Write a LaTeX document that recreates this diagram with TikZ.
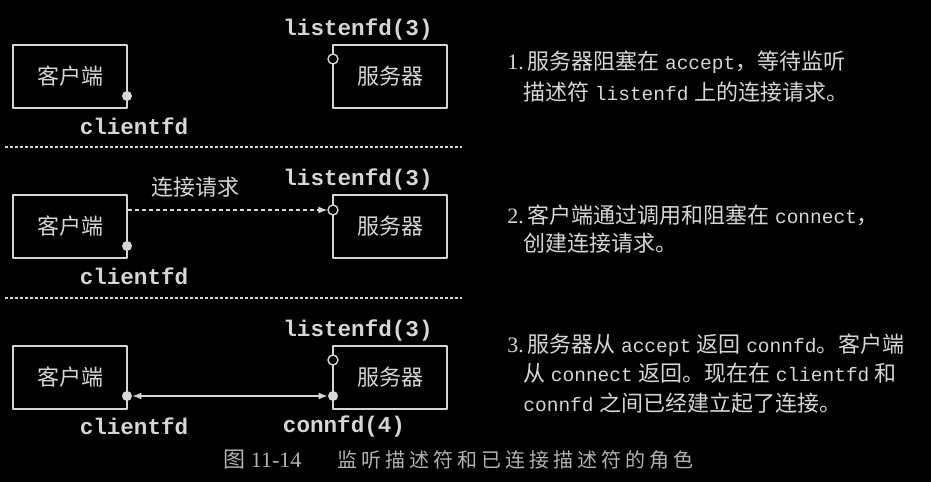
\documentclass[tikz,border=0pt]{standalone}
\usepackage{fontspec}
\setmainfont{Liberation Serif}
\setmonofont{Liberation Mono}
\newfontfamily\cjk{Noto Sans CJK SC}
\newfontfamily\cjkcap[LetterSpace=20]{Noto Sans CJK SC}
\usetikzlibrary{arrows.meta}

\definecolor{ink}{gray}{0.84}
\definecolor{capink}{gray}{0.70}

\newcommand{\code}[1]{{\ttfamily\fontsize{9.75}{12}\selectfont #1}}

\begin{document}
\begin{tikzpicture}[
    x = 0.5pt, y = -0.5pt,
    line join=round,
    >={Latex[length=4.5pt, width=3.5pt]},
    box/.style = {draw=ink, line width=1.1pt, minimum width=57pt, minimum height=31.5pt, inner sep=0pt, text=ink, font=\cjk\fontsize{11}{11}\selectfont},
    fdfull/.style = {circle, fill=ink, inner sep=0pt, minimum size=5pt},
    fdopen/.style = {circle, draw=ink, fill=black, line width=0.7pt, inner sep=0pt, minimum size=5pt},
    fdname/.style = {text=ink, inner sep=0pt, font=\ttfamily\bfseries\fontsize{11.3}{12}\selectfont},
    note/.style = {anchor=west, text=ink, inner sep=0pt, font=\fontsize{11}{12}\selectfont},
    sep/.style = {draw=ink, line width=0.6pt, dash pattern=on 1.5pt off 1pt},
    link/.style = {draw=ink, line width=0.6pt}
]

\useasboundingbox (0, 0) rectangle (931, 482);
\fill[black] (0, 0) rectangle (931, 482);

% panel 1
\node[box] (client1) at (70, 76.5) {客户端};
\node[box] (server1) at (390, 76.5) {服务器};
\node[fdfull] (cfd1) at (127, 96) {};
\node[fdopen] (lfd1) at (333, 59) {};
\node[fdname] (lname1) at (358, 29) {listenfd(3)};
\node[fdname] (cname1) at (134, 126) {clientfd};

\node[note] (note1a) at (507, 62) {1.\,{\cjk 服务器阻塞在} \code{accept}{\cjk ，等待监听}};
\node[note] (note1b) at (523, 92) {{\cjk 描述符} \code{listenfd} {\cjk 上的连接请求。}};

\coordinate (sepA) at (5, 147);
\coordinate (sepB) at (462, 147);
\draw[sep] (sepA) -- (sepB);

% panel 2
\node[box] (client2) at (70, 226.5) {客户端};
\node[box] (server2) at (390, 226.5) {服务器};
\node[fdfull] (cfd2) at (127, 246) {};
\node[fdopen] (lfd2) at (333, 210) {};
\node[fdname] (lname2) at (358, 179) {listenfd(3)};
\node[fdname] (cname2) at (134, 276) {clientfd};
\node[text=ink, inner sep=0pt, font=\cjk\fontsize{11}{11}\selectfont] (req2) at (195, 187) {连接请求};

\draw[link, ->, dash pattern=on 2pt off 1.5pt] (client2.east |- lfd2) -- (lfd2);

\node[note] (note2a) at (507, 215) {2.\,{\cjk 客户端通过调用和阻塞在} \code{connect}{\cjk ，}};
\node[note] (note2b) at (523, 243) {{\cjk 创建连接请求。}};

\coordinate (sepC) at (5, 298);
\coordinate (sepD) at (462, 298);
\draw[sep] (sepC) -- (sepD);

% panel 3
\node[box] (client3) at (70, 377.5) {客户端};
\node[box] (server3) at (390, 377.5) {服务器};
\node[fdfull] (cfd3) at (127, 396) {};
\node[fdfull] (conn3) at (333, 396) {};
\node[fdopen] (lfd3) at (333, 360) {};
\node[fdname] (lname3) at (358, 330) {listenfd(3)};
\node[fdname] (cname3) at (134, 426) {clientfd};
\node[fdname] (connname3) at (344, 426) {connfd(4)};

\draw[link, <->] (cfd3) -- (conn3);

\node[note] (note3a) at (507, 345) {3.\,{\cjk 服务器从} \code{accept} {\cjk 返回} \code{connfd}{\cjk 。客户端}};
\node[note] (note3b) at (523, 373) {{\cjk 从} \code{connect} {\cjk 返回。现在在} \code{clientfd} {\cjk 和}};
\node[note] (note3c) at (523, 403) {\code{connfd} {\cjk 之间已经建立起了连接。}};

% caption
\node[note, text=capink] (capnum) at (223, 460) {{\cjk 图} 11-14};
\node[note, text=capink, font=\cjkcap\fontsize{10}{12}\selectfont] (captext) at (337, 460) {监听描述符和已连接描述符的角色};

\end{tikzpicture}
\end{document}
